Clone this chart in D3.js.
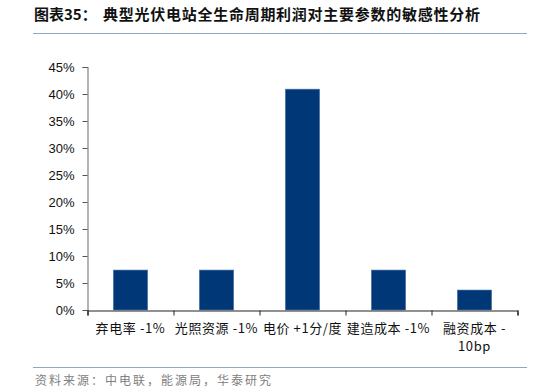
<!DOCTYPE html>
<html><head><meta charset="utf-8">
<script src="https://cdn.jsdelivr.net/npm/d3@7"></script>
<style>body{margin:0;background:#fff;}svg{display:block;}</style>
</head><body>
<svg id="c" width="534" height="392"></svg>
<script>
const categories = [["弃电率 -1%"], ["光照资源 -1%"], ["电价 +1分/度"], ["建造成本 -1%"], ["融资成本 -", "10bp"]];
const values = [0.074, 0.074, 0.409, 0.074, 0.037];
const yTicks = [0, 0.05, 0.10, 0.15, 0.20, 0.25, 0.30, 0.35, 0.40, 0.45];
const titleLabel = "图表35：";
const title = "典型光伏电站全生命周期利润对主要参数的敏感性分析";
const source = "资料来源：中电联，能源局，华泰研究";

const svg = d3.select("#c");
const cjk = "'Noto Sans CJK SC', 'Liberation Sans', sans-serif";
const lat = "'Liberation Sans', Arial, sans-serif";

// title
svg.append("text").attr("x", 34).attr("y", 20)
  .attr("font-family", cjk).attr("font-weight", "bold").attr("font-size", 15)
  .attr("fill", "#111").text(titleLabel);
svg.append("text").attr("x", 103).attr("y", 20)
  .attr("font-family", cjk).attr("font-weight", "bold").attr("font-size", 15)
  .attr("textLength", 377).attr("lengthAdjust", "spacing")
  .attr("fill", "#111").text(title);
svg.append("line").attr("x1", 33).attr("x2", 527).attr("y1", 33.5).attr("y2", 33.5)
  .attr("stroke", "#8fa6c4").attr("stroke-width", 1);

// footer
svg.append("line").attr("x1", 33).attr("x2", 527).attr("y1", 367.5).attr("y2", 367.5)
  .attr("stroke", "#8fa6c4").attr("stroke-width", 1);
svg.append("text").attr("x", 35).attr("y", 385)
  .attr("font-family", cjk).attr("font-size", 12).attr("fill", "#808080")
  .attr("textLength", 236).attr("lengthAdjust", "spacing").text(source);

const x0 = 87.5, x1 = 517.5, yTop = 67, yBot = 310;
const x = d3.scaleBand().domain(d3.range(values.length)).range([x0, x1]).paddingInner(0.6).paddingOuter(0.3);
const y = d3.scaleLinear().domain([0, 0.45]).range([yBot, yTop]);

// bars
svg.append("g").selectAll("rect").data(values).join("rect")
  .attr("x", (d, i) => x(i)).attr("width", x.bandwidth())
  .attr("y", d => y(d)).attr("height", d => yBot - y(d))
  .attr("fill", "#003777").attr("stroke", "#5a7fae").attr("stroke-width", 0.6);

// y axis
const yAxis = d3.axisLeft(y).tickValues(yTicks).tickFormat(d3.format(".0%")).tickSize(5).tickPadding(8);
const gy = svg.append("g").attr("transform", `translate(${x0},0)`).call(yAxis);
gy.select(".domain").attr("stroke", "#808080").attr("stroke-width", 1.2);
gy.selectAll(".tick line").attr("stroke", "#555");
gy.selectAll(".tick text").attr("font-family", lat).attr("font-size", 13).attr("fill", "#111");

// x axis
const xb = d3.scaleLinear().domain([0, values.length]).range([x0, x1]);
const gx = svg.append("g").attr("transform", `translate(0,${yBot + 0.5})`)
  .call(d3.axisBottom(xb).tickValues(d3.range(values.length + 1)).tickSize(5).tickFormat(""));
gx.select(".domain").attr("stroke", "#222").attr("stroke-width", 1.2);
gx.selectAll(".tick line").attr("stroke", "#222");

// x labels
const lab = svg.append("g");
categories.forEach((lines, i) => {
  const cx = x(i) + x.bandwidth() / 2;
  const t = lab.append("text").attr("x", cx).attr("y", 333)
    .attr("text-anchor", "middle").attr("font-family", cjk).attr("font-size", 13)
    .attr("letter-spacing", 0.6).attr("fill", "#111");
  lines.forEach((ln, j) => {
    t.append("tspan").attr("x", cx).attr("dy", j === 0 ? 0 : 18).text(ln);
  });
});
</script>
</body></html>
